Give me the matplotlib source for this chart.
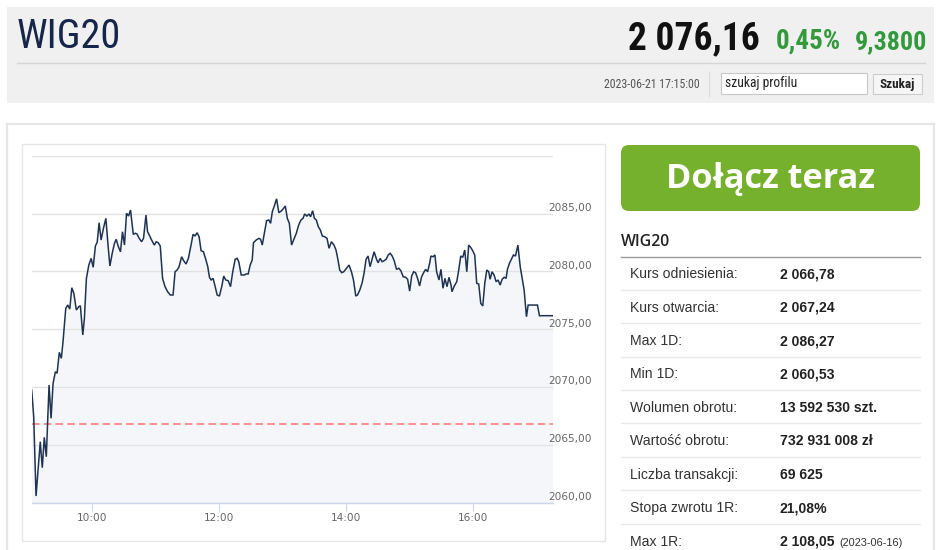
import matplotlib
matplotlib.use("Agg")
import matplotlib.pyplot as plt
import matplotlib.transforms as mtransforms
from matplotlib.patches import Rectangle, FancyBboxPatch
from matplotlib import font_manager as fm

# ---------------- data ----------------
index_name = "WIG20"
last_price = "2 076,16"
change_pct = "0,45%"
change_abs = "9,3800"
timestamp = "2023-06-21 17:15:00"
search_placeholder = "szukaj profilu"
search_button = "Szukaj"
cta_text = "Dołącz teraz"

# minutes after 09:00
minutes = [
    2.6, 4.5, 6.7, 10.7, 12.6, 14.5, 16.4, 19.0, 20.9, 22.8,
    25.0, 26.6, 28.7, 30.6, 32.2, 34.8, 36.7, 38.6, 40.5, 42.4,
    44.8, 47.1, 48.6, 50.9, 52.4, 54.3, 56.6, 58.8, 60.7, 62.8,
    64.5, 66.3, 68.2, 70.4, 72.7, 74.6, 76.5, 78.7, 80.8, 82.5,
    84.3, 86.5, 88.4, 90.3, 92.2, 94.1, 96.0, 98.6, 100.7,
    102.1, 104.2, 106.4, 108.3, 110.6, 112.1, 113.7, 115.9, 118.5, 120.3,
    122.2, 124.1, 126.3, 128.6, 131.1, 133.6, 136.2, 138.1, 140.0, 141.9,
    144.3, 146.2, 148.5, 150.7, 153.2, 155.1, 157.0, 158.9, 160.8, 162.7,
    164.9, 167.1, 169.0, 170.6, 172.2, 174.1, 176.0, 177.9, 180.0, 182.2,
    184.1, 186.0, 188.3, 190.5, 192.6, 194.9, 196.8, 198.3, 200.6, 203.7,
    205.3, 207.2, 209.1, 211.0, 212.2, 214.8, 217.3, 218.9, 220.5, 222.7,
    224.6, 226.7, 228.4, 230.0, 231.9, 234.0, 236.2, 238.8, 240.7, 242.3,
    244.2, 246.1, 248.2, 250.4, 252.7, 254.9, 257.1, 259.0, 260.6, 262.7,
    264.6, 266.2, 268.1, 269.8, 271.6, 273.5, 275.4, 277.3, 279.5, 281.7,
    283.6, 285.9, 288.3, 290.2, 292.1, 293.7, 295.6, 297.5, 300.1, 302.5,
    304.8, 306.7, 308.9, 310.5, 312.7, 314.9, 316.7, 318.6, 320.5, 322.4,
    324.3, 326.2, 328.5, 330.0, 331.9, 333.8, 335.7, 337.6, 339.5, 341.4,
    343.3, 345.2, 347.4, 349.6, 351.5, 353.7, 356.0, 357.9, 359.8, 361.7,
    363.6, 365.4, 367.3, 369.2, 371.1, 373.0, 374.9, 376.8, 378.7, 379.9,
    381.8, 383.7, 385.3, 387.5, 389.4, 391.3, 393.2, 395.1, 397.0, 398.9,
    399.8, 401.7, 404.3, 406.2, 408.1, 410.0, 411.9, 413.8, 415.6, 417.5,
    419.4, 421.3, 423.2, 425.1, 427.0, 428.9, 430.8, 432.7, 434.6, 435.8,
    437.7, 439.6, 441.5, 443.4, 445.3, 447.2, 449.1, 451.0, 452.2, 454.1,
    456.0, 457.9, 459.8, 462.1, 464.3, 466.2, 468.0, 470.2, 471.8, 473.7,
    480.6, 482.5, 495.0,
]

values = [
    2069.73, 2067.42, 2060.56, 2065.26, 2063.01, 2065.64, 2063.96, 2070.16, 2067.28, 2070.31,
    2071.31, 2071.18, 2072.99, 2072.47, 2073.91, 2076.80, 2077.08, 2076.74, 2078.58, 2078.10,
    2076.65, 2076.94, 2077.02, 2074.49, 2075.93, 2079.39, 2080.54, 2081.12, 2080.34, 2082.19,
    2082.51, 2084.20, 2082.71, 2083.72, 2084.58, 2082.42, 2080.46, 2081.56, 2082.42, 2082.77,
    2082.19, 2081.69, 2083.42, 2082.27, 2085.02, 2084.78, 2085.30, 2083.20, 2083.29,
    2083.23, 2082.85, 2082.56, 2082.85, 2084.87, 2083.42, 2083.14, 2082.71, 2082.27, 2082.56,
    2082.47, 2082.19, 2079.39, 2078.67, 2078.23, 2077.95, 2077.95, 2079.96, 2080.11, 2080.40,
    2081.26, 2080.92, 2080.63, 2081.12, 2082.27, 2083.20, 2083.05, 2083.34, 2082.99, 2081.78,
    2081.69, 2081.04, 2080.40, 2079.48, 2079.25, 2079.39, 2078.67, 2077.95, 2077.86, 2078.67,
    2079.59, 2079.25, 2079.19, 2078.67, 2079.96, 2081.04, 2081.12, 2080.83, 2079.68, 2079.68,
    2079.77, 2079.77, 2080.54, 2080.98, 2082.47, 2082.71, 2082.85, 2082.77, 2082.27, 2083.42,
    2084.38, 2084.44, 2084.15, 2085.15, 2085.65, 2086.27, 2085.07, 2085.24, 2085.45, 2085.65,
    2084.58, 2084.15, 2082.27, 2082.77, 2083.29, 2084.00, 2084.44, 2084.58, 2084.96, 2084.78,
    2084.96, 2084.72, 2085.24, 2084.58, 2084.44, 2083.86, 2083.57, 2083.05, 2082.99, 2082.85,
    2081.99, 2082.56, 2082.27, 2081.84, 2080.98, 2080.11, 2079.88, 2079.96, 2080.26, 2080.54,
    2079.96, 2079.25, 2077.86, 2077.95, 2078.38, 2079.01, 2079.83, 2081.04, 2081.32, 2080.40,
    2081.04, 2081.69, 2081.04, 2080.74, 2081.12, 2080.83, 2080.92, 2081.04, 2081.41, 2081.56,
    2081.32, 2080.92, 2080.17, 2080.26, 2080.05, 2079.53, 2079.48, 2079.31, 2078.29, 2079.59,
    2079.96, 2079.88, 2079.39, 2078.73, 2079.53, 2079.88, 2080.17, 2079.96, 2080.69, 2081.32,
    2081.26, 2081.41, 2079.96, 2079.25, 2080.17, 2078.53, 2079.39, 2078.67, 2079.48, 2078.81,
    2078.23, 2078.67, 2079.10, 2080.11, 2081.32, 2081.21, 2081.84, 2079.96, 2082.27, 2082.07,
    2081.78, 2081.41, 2078.96, 2078.90, 2077.23, 2077.00, 2078.96, 2080.11, 2079.96, 2079.31,
    2079.96, 2079.68, 2079.10, 2079.25, 2078.81, 2079.31, 2079.48, 2079.39, 2080.17, 2080.69,
    2081.04, 2081.41, 2081.32, 2082.27, 2080.40, 2079.39, 2078.38, 2076.07, 2077.08, 2077.08,
    2077.08, 2076.16, 2076.16,
]

reference_price = 2066.78
session_start_hour = 9

y_ticks = [2060, 2065, 2070, 2075, 2080, 2085, 2090]
y_tick_labels = ["2060,00", "2065,00", "2070,00", "2075,00", "2080,00", "2085,00", ""]
x_ticks = [10, 12, 14, 16]
x_tick_labels = ["10:00", "12:00", "14:00", "16:00"]

stats_title = "WIG20"
stat_labels = ["Kurs odniesienia:", "Kurs otwarcia:", "Max 1D:", "Min 1D:",
               "Wolumen obrotu:", "Wartość obrotu:", "Liczba transakcji:",
               "Stopa zwrotu 1R:", "Max 1R:"]
stat_values = ["2 066,78", "2 067,24", "2 086,27", "2 060,53",
               "13 592 530 szt.", "732 931 008 zł", "69 625",
               "21,08%", "2 108,05"]
stat_notes = ["", "", "", "", "", "", "", "", "(2023-06-16)"]

# ---------------- fonts ----------------
available = {f.name for f in fm.fontManager.ttflist}
def pick(*names):
    for n in names:
        if n in available:
            return n
    return "DejaVu Sans"

NARROW = pick("Liberation Sans Narrow", "Roboto Condensed", "Liberation Sans")
ARIAL = pick("Liberation Sans", "Arimo", "DejaVu Sans")
OPEN = pick("Open Sans", "Noto Sans", "DejaVu Sans")
CHART = "DejaVu Sans"

PX = 0.72  # px -> pt at 100 dpi

# ---------------- figure ----------------
W, H = 948, 550
fig = plt.figure(figsize=(W / 100, H / 100), dpi=100)
fig.patch.set_facecolor("white")

bg = fig.add_axes([0, 0, 1, 1])
bg.set_xlim(0, W)
bg.set_ylim(H, 0)
bg.axis("off")

# header panel
bg.add_patch(Rectangle((7, 7), 927, 96, fc="#f0f0f0", ec="none"))
bg.plot([17, 925], [63, 63], color="#d6d6d6", lw=1)
bg.text(17, 48, index_name, family=NARROW, fontsize=29, weight="normal",
        color="#16264a", ha="left", va="baseline")
bg.text(628, 49, last_price, family=NARROW, fontsize=27, weight="bold",
        color="#111111", ha="left", va="baseline")
bg.text(776, 49, change_pct, family=NARROW, fontsize=19.5, weight="bold",
        color="#34993d", ha="left", va="baseline")
bg.text(855, 49, change_abs, family=NARROW, fontsize=18.7, weight="bold",
        color="#34993d", ha="left", va="baseline")
bg.text(700, 88, timestamp, family=NARROW, fontsize=8.6, color="#555555",
        ha="right", va="baseline")
bg.plot([709, 709], [72, 96], color="#dddddd", lw=1)
bg.add_patch(Rectangle((721, 73), 146, 21, fc="white", ec="#c8c8c8", lw=0.8))
bg.text(725, 87, search_placeholder, family=NARROW, fontsize=9.8, color="#222222",
        ha="left", va="baseline")
bg.add_patch(Rectangle((873, 74), 49, 20, fc="#f6f6f6", ec="#cccccc", lw=0.8))
bg.text(897.5, 88, search_button, family=NARROW, fontsize=9.5, weight="bold",
        color="#222222", ha="center", va="baseline")

# lower panel + chart box
bg.add_patch(Rectangle((7, 124), 927, 440, fc="white", ec="#e6e6e6", lw=1.6))
bg.add_patch(Rectangle((22, 144), 583, 397, fc="white", ec="#e6e6e6", lw=1.0))

# CTA button
bg.add_patch(FancyBboxPatch((621, 145), 299, 66,
                            boxstyle="round,pad=0,rounding_size=8",
                            fc="#76b12e", ec="none"))
bg.text(770.5, 188.5, cta_text, family=OPEN, fontsize=24.7, weight="bold",
        color="white", ha="center", va="baseline")

# stats table
bg.text(621, 246, stats_title, family=OPEN, fontsize=11.3, weight="semibold",
        color="#222222", ha="left", va="baseline")
bg.plot([621, 920], [256.7, 256.7], color="#9a9a9a", lw=1)
row0, pitch = 273.3, 33.4
for i, (lab, val, note) in enumerate(zip(stat_labels, stat_values, stat_notes)):
    yc = row0 + pitch * i
    bg.text(630.5, yc + 5, lab, family=ARIAL, fontsize=14 * PX, color="#333333",
            ha="left", va="baseline")
    bg.text(780, yc + 5, val, family=ARIAL, fontsize=14 * PX, weight="bold",
            color="#222222", ha="left", va="baseline")
    if note:
        bg.text(839.5, yc + 5, note, family=ARIAL, fontsize=11 * PX,
                color="#333333", ha="left", va="baseline")
    if i < len(stat_labels) - 1:
        bg.plot([621, 920], [yc + 16.5, yc + 16.5], color="#e9e9e9", lw=1)

# ---------------- chart ----------------
left_px, right_px = 31.7, 552.7
top_px, bottom_px = 155.7, 502.5
ax = fig.add_axes([left_px / W, (H - bottom_px) / H,
                   (right_px - left_px) / W, (bottom_px - top_px) / H])
ax.patch.set_alpha(0)

hours = [session_start_hour + m / 60.0 for m in minutes]
ax.set_xlim(hours[0], hours[-1])
ax.set_ylim(y_ticks[0], y_ticks[-1])

ax.fill_between(hours, values, y_ticks[0], color="#f4f6f9", lw=0, zorder=0.3)
ax.set_axisbelow(True)
ax.set_yticks(y_ticks)
ax.grid(axis="y", color="#e3e3e3", lw=1.0)
ax.grid(axis="x", visible=False)
ax.plot(hours, values, color="#1e3352", lw=1.1, zorder=3,
        solid_joinstyle="miter")
ax.axhline(reference_price, color="#ff7070", lw=1.1, ls=(0, (4.9, 2.8)),
           zorder=2.5)

for s in ["top", "left", "right"]:
    ax.spines[s].set_visible(False)
ax.spines["bottom"].set_color("#ccd6eb")
ax.spines["bottom"].set_linewidth(1.0)

ax.tick_params(axis="y", length=0, labelleft=False, labelright=False)
ax.set_xticks(x_ticks)
ax.set_xticklabels(x_tick_labels, family=CHART, fontsize=7.6, color="#666666")
ax.tick_params(axis="x", direction="out", length=5.8, width=0.8,
               color="#ccd6eb", pad=1.5)

ylab_tf = mtransforms.blended_transform_factory(ax.transAxes, ax.transData) + \
    mtransforms.ScaledTranslation(-4.7 / 100, 2.5 / 100, fig.dpi_scale_trans)
for v, lab in zip(y_ticks, y_tick_labels):
    if lab:
        ax.text(1.0, v, lab, transform=ylab_tf, family=CHART, fontsize=7.6,
                color="#666666", ha="left", va="baseline", clip_on=False)

fig.savefig("out.png", dpi=100, facecolor="white")
